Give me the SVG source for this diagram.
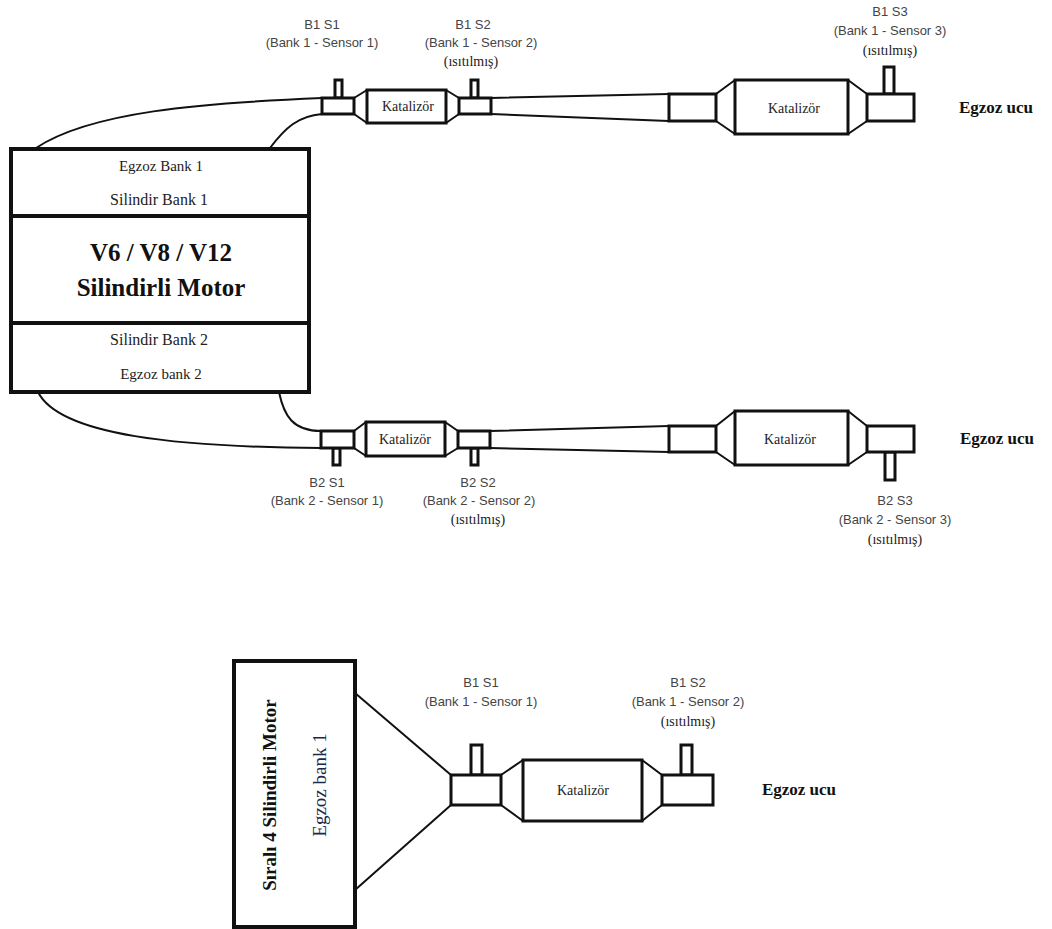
<svg xmlns="http://www.w3.org/2000/svg" width="1052" height="929" viewBox="0 0 1052 929">
<style>
.a{font-family:"Liberation Sans",Arial,sans-serif;font-size:13px;fill:#444;text-anchor:middle}
.t{font-family:"Liberation Serif","Times New Roman",serif;fill:#222;text-anchor:middle}
.s{font-size:14px}
.m{font-size:15px}
.b{font-weight:bold;fill:#111}
.p{fill:#fff;stroke:#111;stroke-width:3}
.n{fill:none;stroke:#111;stroke-width:2}
.l{fill:none;stroke:#111;stroke-width:2}
.e{fill:#fff;stroke:#111;stroke-width:4}
</style>
<rect width="1052" height="929" fill="#fff"/>
<g id="connectors">
<path class="l" d="M36 148C90 112 200 103 322 98"/>
<path class="l" d="M270 148C285 128 298 116 322 114"/>
<path class="l" d="M38 392C60 436 180 447 321 448"/>
<path class="l" d="M279 392C284 416 293 431 321 431"/>
<path class="l" d="M491 98L669 94M491 114L669 121"/>
<path class="l" d="M490 431L669 426M490 448L669 452"/>
<path class="l" d="M355 693L451 775M355 890L451 805"/>
</g>
<g id="engine-v">
<rect class="e" x="11" y="149" width="298" height="243" stroke-width="4"/>
<path class="e" d="M11 216H309M11 323H309"/>
<text class="t m" x="161" y="171">Egzoz Bank 1</text>
<text class="t" x="159" y="205" font-size="16">Silindir Bank 1</text>
<text class="t b" x="161" y="261" font-size="25">V6 / V8 / V12</text>
<text class="t b" x="161" y="296" font-size="25">Silindirli Motor</text>
<text class="t" x="159" y="345" font-size="16">Silindir Bank 2</text>
<text class="t m" x="161" y="379">Egzoz bank 2</text>
</g>
<g id="b1-s1">
<rect class="p" x="335" y="80" width="7" height="18"/>
<rect class="p" x="322" y="98" width="32" height="16"/>
<text class="a" x="322" y="29">B1 S1</text>
<text class="a" x="322" y="47">(Bank 1 - Sensor 1)</text>
</g>
<g id="b1-cat1">
<path class="n" d="M354 98L367 90M354 114L367 123M446 90L459 98M446 123L459 114"/>
<rect class="p" x="367" y="90" width="79" height="33"/>
<text class="t" x="408" y="111" font-size="14">Katalizör</text>
</g>
<g id="b1-s2">
<rect class="p" x="471" y="80" width="7" height="18"/>
<rect class="p" x="459" y="98" width="32" height="16"/>
<text class="a" x="473" y="29">B1 S2</text>
<text class="a" x="481" y="47">(Bank 1 - Sensor 2)</text>
<text class="t s" x="471" y="66">(ısıtılmış)</text>
</g>
<g id="b1-cat2">
<rect class="p" x="669" y="94" width="47" height="27"/>
<path class="n" d="M716 94L735 80M716 121L735 134M848 80L867 94M848 134L867 121"/>
<rect class="p" x="735" y="80" width="113" height="54"/>
<text class="t" x="794" y="113" font-size="14">Katalizör</text>
</g>
<g id="b1-s3">
<rect class="p" x="884" y="67" width="10" height="27"/>
<rect class="p" x="867" y="94" width="47" height="27"/>
<text class="a" x="890" y="16">B1 S3</text>
<text class="a" x="890" y="35">(Bank 1 - Sensor 3)</text>
<text class="t s" x="890" y="55">(ısıtılmış)</text>
<text class="t b" x="996" y="113" font-size="17">Egzoz ucu</text>
</g>
<g id="b2-s1">
<rect class="p" x="333" y="448" width="7" height="17"/>
<rect class="p" x="321" y="431" width="33" height="17"/>
<text class="a" x="327" y="487">B2 S1</text>
<text class="a" x="327" y="505">(Bank 2 - Sensor 1)</text>
</g>
<g id="b2-cat1">
<path class="n" d="M354 431L366 422M354 448L366 456M445 422L458 431M445 456L458 448"/>
<rect class="p" x="366" y="422" width="79" height="34"/>
<text class="t" x="405" y="444" font-size="14">Katalizör</text>
</g>
<g id="b2-s2">
<rect class="p" x="471" y="448" width="7" height="17"/>
<rect class="p" x="458" y="431" width="32" height="17"/>
<text class="a" x="478" y="487">B2 S2</text>
<text class="a" x="479" y="505">(Bank 2 - Sensor 2)</text>
<text class="t s" x="478" y="524">(ısıtılmış)</text>
</g>
<g id="b2-cat2">
<rect class="p" x="669" y="426" width="47" height="26"/>
<path class="n" d="M716 426L735 411M716 452L735 465M848 411L867 426M848 465L867 452"/>
<rect class="p" x="735" y="411" width="113" height="54"/>
<text class="t" x="790" y="444" font-size="14">Katalizör</text>
</g>
<g id="b2-s3">
<rect class="p" x="885" y="452" width="10" height="28"/>
<path class="p" d="M867 452V426H914V452Z"/>
<text class="a" x="895" y="505">B2 S3</text>
<text class="a" x="895" y="524">(Bank 2 - Sensor 3)</text>
<text class="t s" x="895" y="544">(ısıtılmış)</text>
<text class="t b" x="997" y="444" font-size="17">Egzoz ucu</text>
</g>
<g id="engine-i4">
<rect class="e" x="234" y="661" width="121" height="266"/>
<text class="t b" x="276" y="795" font-size="19" transform="rotate(-90 276 795)">Sıralı 4 Silindirli Motor</text>
<text x="326" y="785" font-family="Liberation Serif,serif" font-size="19" fill="#1a2a4a" text-anchor="middle" transform="rotate(-90 326 785)">Egzoz bank 1</text>
</g>
<g id="i4-s1">
<rect class="p" x="471" y="745" width="11" height="30"/>
<rect class="p" x="451" y="775" width="50" height="30"/>
<text class="a" x="481" y="687">B1 S1</text>
<text class="a" x="481" y="706">(Bank 1 - Sensor 1)</text>
</g>
<g id="i4-cat">
<path class="n" d="M501 775L523 760M501 805L523 821M642 760L662 775M642 821L662 805"/>
<rect class="p" x="523" y="760" width="119" height="61"/>
<text class="t" x="583" y="795" font-size="14">Katalizör</text>
</g>
<g id="i4-s2">
<rect class="p" x="681" y="745" width="11" height="30"/>
<rect class="p" x="662" y="775" width="51" height="30"/>
<text class="a" x="688" y="687">B1 S2</text>
<text class="a" x="688" y="706">(Bank 1 - Sensor 2)</text>
<text class="t s" x="688" y="726">(ısıtılmış)</text>
<text class="t b" x="799" y="795" font-size="17">Egzoz ucu</text>
</g>
</svg>
